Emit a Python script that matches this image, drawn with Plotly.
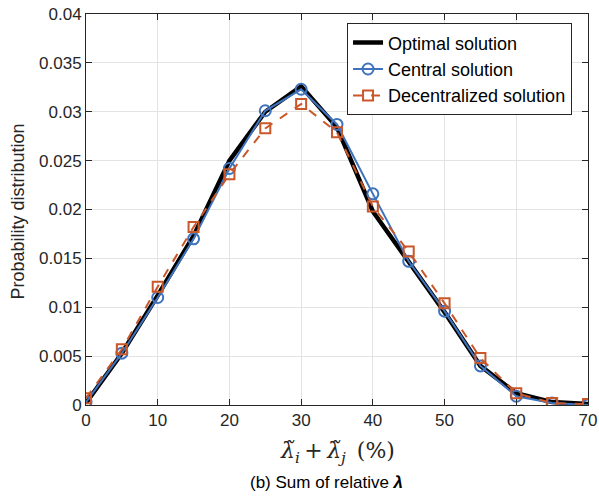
import plotly.graph_objects as go

x_vals = [0, 5, 10, 15, 20, 25, 30, 35, 40, 45, 50, 55, 60, 65, 70]
optimal = [0.0002, 0.0053, 0.0112, 0.0173, 0.0250, 0.0300, 0.0326, 0.0284, 0.0198, 0.0147, 0.0095, 0.0040, 0.0012, 0.0003, 0.0001]
central = [0.0003, 0.0053, 0.0110, 0.0170, 0.0242, 0.0301, 0.0323, 0.0287, 0.0216, 0.0147, 0.0096, 0.0040, 0.0009, 0.0002, 0.0000]
decentral = [0.0007, 0.0057, 0.0121, 0.0182, 0.0236, 0.0283, 0.0308, 0.0279, 0.0203, 0.0157, 0.0104, 0.0048, 0.0012, 0.0002, 0.0001]

x_ticks = [0, 10, 20, 30, 40, 50, 60, 70]
y_ticks = [0, 0.005, 0.01, 0.015, 0.02, 0.025, 0.03, 0.035, 0.04]
y_tick_text = ["0", "0.005", "0.01", "0.015", "0.02", "0.025", "0.03", "0.035", "0.04"]

BLUE = "#3f73bd"
ORANGE = "#c9572a"
FONT = "Liberation Sans, Arial, sans-serif"

fig = go.Figure()
fig.add_trace(go.Scatter(x=x_vals, y=optimal, mode="lines", name="Optimal solution",
                         line=dict(color="black", width=4.5)))
fig.add_trace(go.Scatter(x=x_vals, y=central, mode="lines+markers", name="Central solution",
                         line=dict(color=BLUE, width=2),
                         marker=dict(symbol="circle-open", size=11, color=BLUE, line=dict(width=2, color=BLUE))))
fig.add_trace(go.Scatter(x=x_vals, y=decentral, mode="lines+markers", name="Decentralized solution",
                         line=dict(color=ORANGE, width=2, dash="dash"),
                         marker=dict(symbol="square-open", size=10, color=ORANGE, line=dict(width=2, color=ORANGE))))

axis_common = dict(showline=True, linecolor="#262626", linewidth=1, mirror="ticks",
                   ticks="inside", ticklen=6, tickcolor="#262626",
                   showgrid=True, gridcolor="#e3e3e3", gridwidth=1, zeroline=False,
                   automargin=False,
                   tickfont=dict(family=FONT, size=17, color="#262626"))

fig.update_xaxes(range=[0, 70], tickvals=x_ticks, **axis_common)
fig.update_yaxes(range=[0, 0.04], tickvals=y_ticks, ticktext=y_tick_text, **axis_common)

fig.add_annotation(text="<i>λ̃<sub>i</sub></i>\u2009+\u2009<i>λ̃<sub>j</sub></i>\u2002(%)", xref="paper", yref="paper",
                   x=0.5, y=-0.122, xanchor="center", yanchor="middle", showarrow=False,
                   font=dict(family="DejaVu Serif, Liberation Serif, serif", size=22, color="#262626"))
fig.add_annotation(text="Probability distribution", xref="paper", yref="paper",
                   x=-0.136, y=0.494, xanchor="center", yanchor="middle", showarrow=False,
                   textangle=-90, font=dict(family=FONT, size=18, color="#262626"))
fig.add_annotation(text="(b) Sum of relative <b><i>λ</i></b>", xref="paper", yref="paper",
                   x=0.479, y=-0.199, yanchor="middle", xanchor="center", showarrow=False,
                   font=dict(family=FONT, size=17, color="black"))

fig.update_layout(
    width=599, height=496,
    margin=dict(l=86, r=11, t=14, b=91),
    plot_bgcolor="white", paper_bgcolor="white",
    legend=dict(x=0.52, y=0.976, xanchor="left", yanchor="top",
                bgcolor="white", bordercolor="#262626", borderwidth=1,
                font=dict(family=FONT, size=18, color="black"),
                itemwidth=30, tracegroupgap=0),
    showlegend=True,
)

fig.write_html("out.html", config={"displayModeBar": False},
               post_script="document.body.style.margin='0';document.body.style.overflow='hidden';")
